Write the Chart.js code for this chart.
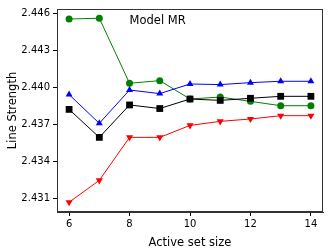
<!DOCTYPE html>
<html><head><meta charset="utf-8">
<script src="https://cdn.jsdelivr.net/npm/chart.js@4"></script>
<style>html,body{margin:0;padding:0;background:#fff}#w{width:333px;height:250px}</style>
</head><body><div id="w"><canvas id="c"></canvas></div>
<script>
const xs = [6,7,8,9,10,11,12,13,14];
const green = [2.44554,2.44560,2.44033,2.44054,2.43905,2.43921,2.43886,2.43851,2.43851];
const blue  = [2.43941,2.43708,2.43978,2.43949,2.44027,2.44022,2.44038,2.44049,2.44049];
const black = [2.43821,2.43594,2.43857,2.43828,2.43905,2.43894,2.43911,2.43927,2.43927];
const red   = [2.43068,2.43246,2.43594,2.43594,2.43691,2.43724,2.43743,2.43770,2.43770];
const xTicks = [6,8,10,12,14];
const yTicks = [2.431,2.434,2.437,2.440,2.443,2.446];
const titleText = "Model MR";
const xLabel = "Active set size";
const yLabel = "Line Strength";

const F = "'DejaVu Sans', sans-serif";
function pts(arr){ return xs.map((x,i)=>({x:x,y:arr[i]})); }
function ds(arr,color,style,rot,r,order){
  return {data:pts(arr),borderColor:color,backgroundColor:color,borderWidth:1,
    pointStyle:style,rotation:rot||0,pointRadius:r,pointBorderWidth:0,pointHoverRadius:r,
    tension:0,fill:false,order:order};
}
const framePlugin = {
  id:'frame',
  afterDatasetsDraw(chart){
    const {ctx,chartArea:a,scales} = chart;
    ctx.save();
    ctx.strokeStyle='#333';ctx.lineWidth=1;
    ctx.strokeRect(a.left+0.5,a.top+0.5,a.right-a.left-1,a.bottom-a.top-1);
    ctx.fillStyle='#000';ctx.font="11.5px "+F;ctx.textAlign='left';ctx.textBaseline='middle';
    ctx.fillText(titleText, scales.x.getPixelForValue(8.0), scales.y.getPixelForValue(2.4454));
    ctx.restore();
  }
};
new Chart(document.getElementById('c'),{
  type:'line',
  data:{datasets:[
    ds(green,'#008000','circle',0,3.5,4),
    ds(blue,'#0000ff','triangle',0,4,3),
    ds(black,'#000000','rect',0,4.8,2),
    ds(red,'#ff0000','triangle',180,4.1,1)
  ]},
  options:{
    responsive:true,maintainAspectRatio:false,animation:false,
    layout:{padding:{left:6,right:10,top:9,bottom:0}},
    plugins:{legend:{display:false},tooltip:{enabled:false}},
    scales:{
      x:{type:'linear',min:5.6,max:14.4,
        afterBuildTicks(s){s.ticks=xTicks.map(v=>({value:v}));},
        afterFit(s){s.height=38;},
        grid:{drawOnChartArea:false,drawTicks:true,tickLength:4,tickColor:'#000'},
        border:{display:true,color:'#333'},
        ticks:{color:'#000',font:{family:F,size:10},padding:2,maxRotation:0},
        title:{display:true,text:xLabel,color:'#000',font:{family:F,size:11.5},padding:{top:0,bottom:0}}
      },
      y:{type:'linear',min:2.42989,max:2.44635,
        afterBuildTicks(s){s.ticks=yTicks.map(v=>({value:v}));},
        afterFit(s){s.width=51;},
        grid:{drawOnChartArea:false,drawTicks:true,tickLength:4,tickColor:'#000'},
        border:{display:true,color:'#333'},
        ticks:{color:'#000',font:{family:F,size:10},padding:3,callback:v=>v.toFixed(3)},
        title:{display:true,text:yLabel,color:'#000',font:{family:F,size:11.5},padding:{top:0,bottom:2}}
      }
    }
  },
  plugins:[framePlugin]
});
</script></body></html>
